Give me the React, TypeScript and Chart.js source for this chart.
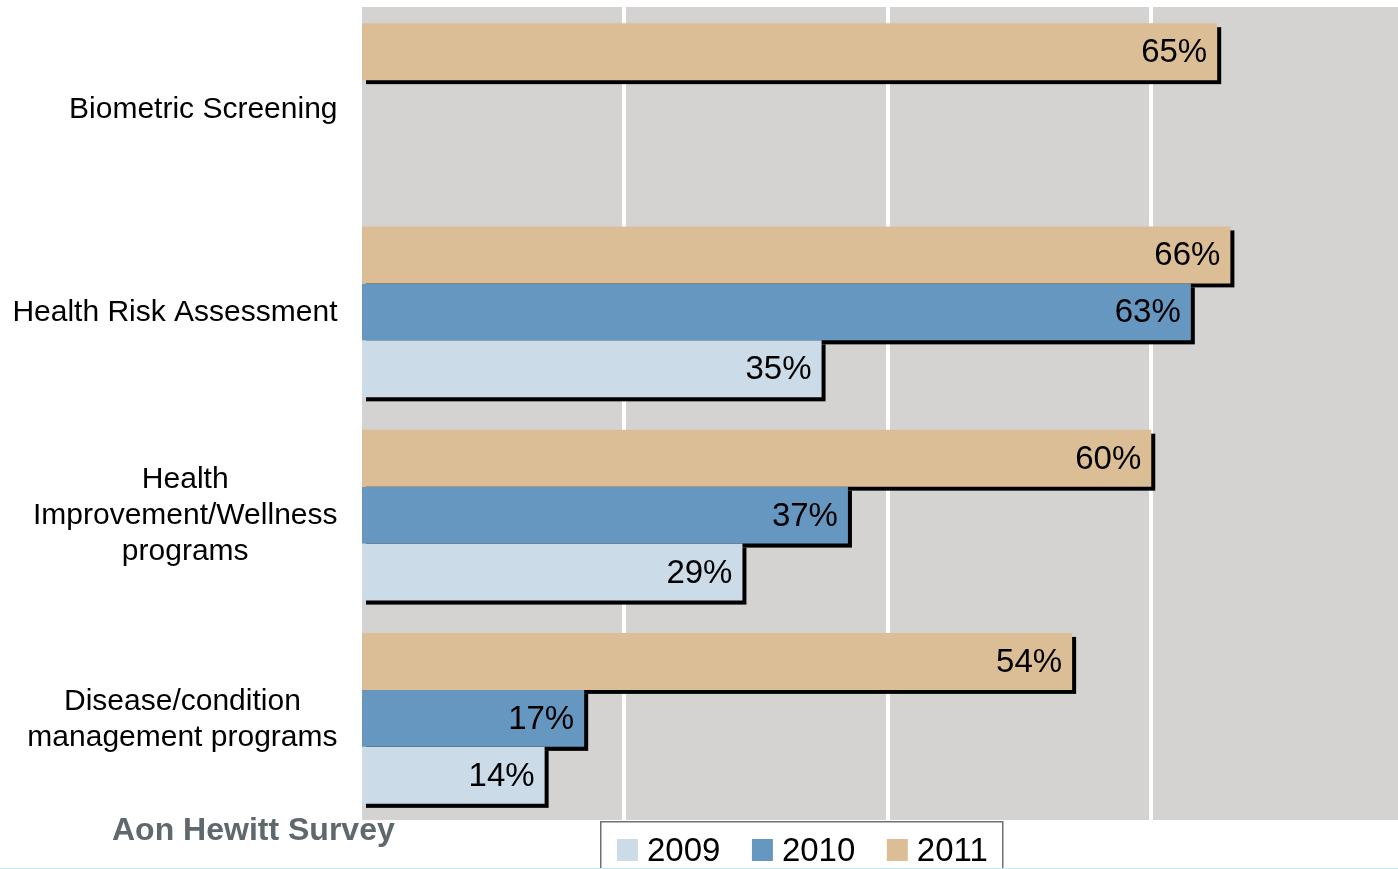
import React, { useEffect, useRef } from 'react';
import { Chart, registerables } from 'chart.js';

Chart.register(...registerables);

// ---- data ----
const categoryLines: string[][] = [
  ['Biometric Screening'],
  ['Health Risk Assessment'],
  ['Health', 'Improvement/Wellness', 'programs'],
  ['Disease/condition', 'management programs'],
];
const categories = categoryLines.map((l) => l.join(' '));
const values2009: (number | null)[] = [null, 35, 29, 14];
const values2010: (number | null)[] = [null, 63, 37, 17];
const values2011: (number | null)[] = [65, 66, 60, 54];
const legendOrder = ['2009', '2010', '2011'];
const xMax = 80;
const xStep = 20;
const sourceText = 'Aon Hewitt Survey';

const COLORS: Record<string, string> = {
  '2009': '#cbdbe8',
  '2010': '#6597c0',
  '2011': '#dbbe96',
};
const FONT = '"Liberation Sans", Arial, Helvetica, sans-serif';

const shadowPlugin = {
  id: 'barShadow',
  beforeDraw(chart: any) {
    const { ctx, chartArea } = chart;
    ctx.save();
    ctx.fillStyle = '#d4d3d2';
    ctx.fillRect(chartArea.left, chartArea.top, chartArea.right - chartArea.left, chartArea.bottom - chartArea.top);
    ctx.restore();
  },
  beforeDatasetsDraw(chart: any) {
    const { ctx } = chart;
    ctx.save();
    ctx.fillStyle = '#000000';
    chart.data.datasets.forEach((ds: any, di: number) => {
      const meta = chart.getDatasetMeta(di);
      meta.data.forEach((el: any, i: number) => {
        if (ds.data[i] == null) return;
        const { x, y, base, height } = el.getProps(['x', 'y', 'base', 'height'], true);
        const left = Math.min(x, base);
        const w = Math.abs(x - base);
        ctx.fillRect(left + 4, y - height / 2 + 4, w, height);
      });
    });
    ctx.restore();
  },
  afterDatasetsDraw(chart: any) {
    const { ctx } = chart;
    ctx.save();
    ctx.fillStyle = '#000000';
    ctx.font = `33px ${FONT}`;
    ctx.textAlign = 'right';
    ctx.textBaseline = 'middle';
    chart.data.datasets.forEach((ds: any, di: number) => {
      const meta = chart.getDatasetMeta(di);
      meta.data.forEach((el: any, i: number) => {
        const v = ds.data[i];
        if (v == null) return;
        const { x, y } = el.getProps(['x', 'y'], true);
        ctx.fillText(`${v}%`, x - 10, y + 1.5);
      });
    });
    ctx.restore();
  },
  afterDraw(chart: any) {
    const { ctx } = chart;
    const yScale = chart.scales.y;
    ctx.save();
    // category labels
    ctx.fillStyle = '#000000';
    ctx.font = `30px ${FONT}`;
    ctx.textAlign = 'center';
    ctx.textBaseline = 'middle';
    const lh = 36;
    categoryLines.forEach((lines, i) => {
      const cy = yScale.getPixelForValue(i) + 1;
      const maxW = Math.max(...lines.map((l) => ctx.measureText(l).width));
      const cx = 337.5 - maxW / 2;
      const y0 = cy - ((lines.length - 1) * lh) / 2;
      lines.forEach((l, k) => ctx.fillText(l, cx, y0 + k * lh));
    });

    // source text
    ctx.fillStyle = '#5f686d';
    ctx.font = `bold 32px ${FONT}`;
    ctx.textAlign = 'left';
    ctx.textBaseline = 'alphabetic';
    ctx.fillText(sourceText, 112, 840);

    // legend box
    ctx.fillStyle = '#ffffff';
    ctx.fillRect(600, 821, 403, 60);
    ctx.strokeStyle = '#707070';
    ctx.lineWidth = 1.5;
    ctx.strokeRect(600.75, 821.75, 402, 60);
    ctx.font = `33px ${FONT}`;
    ctx.textBaseline = 'alphabetic';
    let x = 617;
    legendOrder.forEach((lab) => {
      ctx.fillStyle = COLORS[lab];
      ctx.fillRect(x, 839, 21, 22);
      x += 30;
      ctx.fillStyle = '#000000';
      ctx.fillText(lab, x, 861);
      x += ctx.measureText(lab).width + 31.5;
    });

    // bottom thin line
    ctx.fillStyle = '#c8e9f2';
    ctx.fillRect(0, 868, chart.width, 1);
    ctx.restore();
  },
};

export default function App() {
  const ref = useRef<HTMLCanvasElement>(null);
  useEffect(() => {
    if (!ref.current) return;
    const chart = new Chart(ref.current, {
      type: 'bar',
      data: {
        labels: categories,
        datasets: [
          { label: '2011', data: values2011, backgroundColor: COLORS['2011'], borderWidth: 0, categoryPercentage: 0.841, barPercentage: 1 },
          { label: '2010', data: values2010, backgroundColor: COLORS['2010'], borderWidth: 0, categoryPercentage: 0.841, barPercentage: 1 },
          { label: '2009', data: values2009, backgroundColor: COLORS['2009'], borderWidth: 0, categoryPercentage: 0.841, barPercentage: 1 },
        ],
      },
      options: {
        indexAxis: 'y',
        responsive: false,
        animation: false,
        devicePixelRatio: 1,
        layout: { padding: { left: 360, top: 7, right: 1, bottom: 49 } },
        plugins: { legend: { display: false }, tooltip: { enabled: false } },
        scales: {
          x: {
            min: 0,
            max: xMax,
            ticks: { display: false, stepSize: xStep },
            grid: { color: '#ffffff', lineWidth: 4, drawTicks: false },
            border: { display: false },
            afterFit: (s: any) => { s.height = 0; },
          },
          y: { display: false },
        },
      },
      plugins: [shadowPlugin],
    } as any);
    return () => chart.destroy();
  }, []);
  return (
    <div style={{ position: 'fixed', left: 0, top: 0, width: 1398, height: 869, overflow: 'hidden', background: '#ffffff' }}>
      <canvas ref={ref} width={1416} height={869} style={{ display: 'block' }} />
    </div>
  );
}
